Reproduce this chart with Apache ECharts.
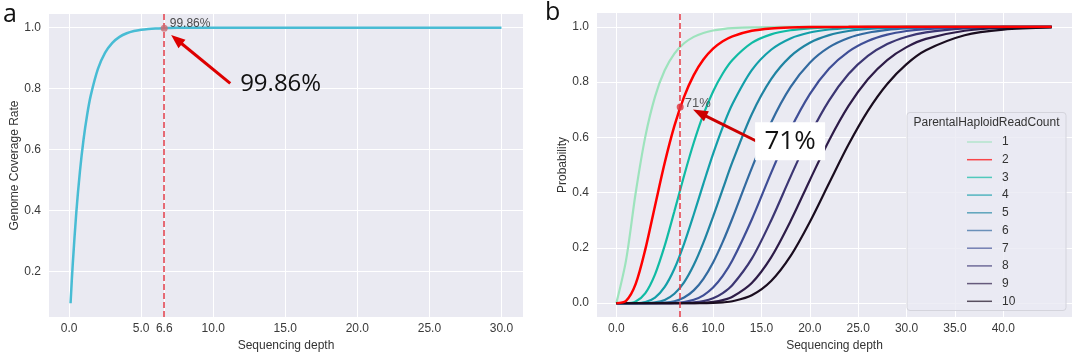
<!DOCTYPE html>
<html><head><meta charset="utf-8">
<script src="https://cdn.jsdelivr.net/npm/echarts@6/dist/echarts.min.js"></script>
<style>html,body{margin:0;padding:0;background:#fff}#c{width:1080px;height:352px}</style>
</head><body><div id="c"></div>
<script>
// ---------- Panel a ----------
const coverageDepth = [0.1, 0.25, 0.5, 0.75, 1, 1.25, 1.5, 2, 2.5, 3, 3.5, 4, 4.5, 5, 5.5, 6, 6.6, 7, 8, 9, 10, 12, 15, 20, 25, 30];
const coverageRate  = [0.0952, 0.2212, 0.3935, 0.5276, 0.6321, 0.7135, 0.7769, 0.8647, 0.9179, 0.9502, 0.9698, 0.9817, 0.9889, 0.9933, 0.9959, 0.9975, 0.9986, 0.9991, 0.9997, 0.9999, 1, 1, 1, 1, 1, 1];
const xTicksA = [0, 5, 6.6, 10, 15, 20, 25, 30];
const yTicksA = [0.2, 0.4, 0.6, 0.8, 1.0];

// ---------- Panel b ----------
const probDepth = [0, 1, 2, 3, 4, 5, 6, 7, 8, 9, 10, 11, 12, 14, 16, 18, 20, 22, 24, 26, 28, 30, 32, 36, 40, 45];
const readCounts = ['1', '2', '3', '4', '5', '6', '7', '8', '9', '10'];
const prob1  = [0, 0.1548, 0.3996, 0.6035, 0.7476, 0.8426, 0.9029, 0.9405, 0.9637, 0.9779, 0.9866, 0.9918, 0.9950, 0.9982, 0.9993, 0.9998, 0.9999, 1, 1, 1, 1, 1, 1, 1, 1, 1];
const prob2  = [0, 0.0081, 0.0698, 0.1955, 0.3528, 0.5079, 0.6414, 0.7467, 0.8252, 0.8815, 0.9208, 0.9476, 0.9656, 0.9855, 0.9940, 0.9975, 0.9990, 0.9996, 0.9998, 1, 1, 1, 1, 1, 1, 1];
const prob3  = [0, 0.0002, 0.0064, 0.0365, 0.1045, 0.2081, 0.3327, 0.4612, 0.5805, 0.6830, 0.7662, 0.8311, 0.8799, 0.9416, 0.9727, 0.9876, 0.9945, 0.9976, 0.9990, 0.9996, 1, 1, 1, 1, 1, 1];
const prob4  = [0, 0, 0.0004, 0.0043, 0.0204, 0.0588, 0.1244, 0.2147, 0.3210, 0.4326, 0.5402, 0.6373, 0.7205, 0.8432, 0.9170, 0.9580, 0.9794, 0.9902, 0.9954, 0.9979, 0.9991, 0.9996, 0.9998, 1, 1, 1];
const prob5  = [0, 0, 0, 0.0003, 0.0028, 0.0118, 0.0341, 0.0754, 0.1378, 0.2189, 0.3130, 0.4128, 0.5111, 0.6839, 0.8107, 0.8931, 0.9424, 0.9700, 0.9849, 0.9925, 0.9964, 0.9983, 0.9992, 0.9998, 1, 1];
const prob6  = [0, 0, 0, 0, 0.0003, 0.0018, 0.0070, 0.0203, 0.0462, 0.0883, 0.1475, 0.2219, 0.3073, 0.4890, 0.6541, 0.7820, 0.8703, 0.9264, 0.9597, 0.9786, 0.9890, 0.9944, 0.9972, 0.9994, 0.9999, 1];
const prob7  = [0, 0, 0, 0, 0, 0.0002, 0.0011, 0.0043, 0.0122, 0.0285, 0.0566, 0.0986, 0.1550, 0.3028, 0.4715, 0.6292, 0.7567, 0.8490, 0.9105, 0.9489, 0.9717, 0.9848, 0.9920, 0.9979, 0.9995, 0.9999];
const prob8  = [0, 0, 0, 0, 0, 0, 0.0001, 0.0007, 0.0026, 0.0075, 0.0178, 0.0363, 0.0655, 0.1610, 0.2993, 0.4571, 0.6081, 0.7341, 0.8290, 0.8949, 0.9378, 0.9643, 0.9801, 0.9942, 0.9984, 0.9997];
const prob9  = [0, 0, 0, 0, 0, 0, 0, 0.0001, 0.0005, 0.0016, 0.0046, 0.0112, 0.0233, 0.0734, 0.1660, 0.2963, 0.4451, 0.5898, 0.7140, 0.8104, 0.8797, 0.9265, 0.9565, 0.9859, 0.9958, 0.9992];
const prob10 = [0, 0, 0, 0, 0, 0, 0, 0, 0.0001, 0.0003, 0.0010, 0.0029, 0.0070, 0.0287, 0.0803, 0.1702, 0.2938, 0.4349, 0.5740, 0.6959, 0.7932, 0.8652, 0.9153, 0.9695, 0.9900, 0.9978];
const probSeries = [prob1, prob2, prob3, prob4, prob5, prob6, prob7, prob8, prob9, prob10];
const xTicksB = [0, 6.6, 10, 15, 20, 25, 30, 35, 40];
const yTicksB = [0, 0.2, 0.4, 0.6, 0.8, 1.0];

// ---------- annotations ----------
const markerDepth = 6.6;
const markerCoverage = 0.9986;
const markerProb = 0.71;
const noteA = '99.86%';
const noteB = '71%';
const arrowA = [[11.18, 0.817], [7.08, 0.976]];   // tail, tip (data coords)
const arrowB = [[14.51, 0.586], [7.92, 0.7005]];
const noteAPos = [14.68, 0.815];
const noteBPos = [17.96, 0.586];

const curveColors = ['#9de3bd', '#ff0000', '#10bba4', '#139fa9', '#2084a2', '#336aa0', '#3f4e96', '#3c3673', '#2e1c48', '#1a0d1f'];
const FONT = '"Liberation Sans", Arial, sans-serif';
const BG = '#eaeaf2';
const TXT = '#3a3a3a';

const chart = echarts.init(document.getElementById('c'), null, {renderer: 'canvas'});

function gridMarkSeries(xi, xt, yt) {
  return {
    type: 'line', xAxisIndex: xi, yAxisIndex: xi, data: [], z: 1, silent: true,
    markLine: {
      silent: true, symbol: 'none', animation: false, z: 1,
      label: {show: false},
      lineStyle: {color: '#ffffff', width: 1, type: 'solid'},
      emphasis: {disabled: true},
      data: xt.map(v => ({xAxis: v})).concat(yt.map(v => ({yAxis: v})))
    }
  };
}
function dashSeries(xi, color, w) {
  return {
    type: 'line', xAxisIndex: xi, yAxisIndex: xi, data: [], z: 6, silent: true,
    markLine: {
      silent: true, symbol: 'none', animation: false, z: 6,
      label: {show: false},
      lineStyle: {color: color, width: w, type: [6, 3]},
      emphasis: {disabled: true},
      data: [{xAxis: markerDepth}]
    }
  };
}
function axisX(gi, min, max, ticks) {
  return {
    type: 'value', gridIndex: gi, min: min, max: max,
    name: 'Sequencing depth', nameLocation: 'middle', nameGap: 19,
    nameTextStyle: {color: '#333', fontSize: 12, fontFamily: FONT},
    axisLine: {show: false}, axisTick: {show: false, customValues: ticks}, splitLine: {show: false},
    axisLabel: {customValues: ticks, formatter: v => v.toFixed(1), color: TXT, fontSize: 12, fontFamily: FONT, margin: 6}
  };
}
function axisY(gi, min, max, ticks, name, gap) {
  return {
    type: 'value', gridIndex: gi, min: min, max: max,
    name: name, nameLocation: 'middle', nameGap: gap,
    nameTextStyle: {color: '#333', fontSize: 12, fontFamily: FONT},
    axisLine: {show: false}, axisTick: {show: false, customValues: ticks}, splitLine: {show: false},
    axisLabel: {customValues: ticks, formatter: v => v.toFixed(1), color: TXT, fontSize: 12, fontFamily: FONT, margin: 8}
  };
}

const series = [
  gridMarkSeries(0, xTicksA, yTicksA),
  gridMarkSeries(1, xTicksB, yTicksB),
  {
    type: 'line', xAxisIndex: 0, yAxisIndex: 0, z: 3,
    data: coverageDepth.map((d, i) => [d, coverageRate[i]]),
    showSymbol: false, symbol: 'none', smooth: 0.3,
    lineStyle: {color: '#48bcd4', width: 2.5}, silent: true
  }
];
probSeries.forEach((arr, k) => {
  series.push({
    name: readCounts[k], type: 'line', xAxisIndex: 1, yAxisIndex: 1, z: k === 1 ? 4 : 3,
    data: probDepth.map((d, i) => [d, arr[i]]),
    showSymbol: false, symbol: 'none', smooth: 0.3,
    color: curveColors[k],
    lineStyle: {color: curveColors[k], width: k === 1 ? 2.5 : 2.2}, silent: true
  });
});
series.push(dashSeries(0, '#e66a74', 2));
series.push(dashSeries(1, '#e23a45', 1.5));
series.push({
  type: 'scatter', xAxisIndex: 0, yAxisIndex: 0, z: 7, silent: true,
  data: [[markerDepth, markerCoverage]], symbolSize: 7,
  itemStyle: {color: '#c96a72'},
  label: {show: true, position: 'right', distance: 2, offset: [0, -4], formatter: noteA, color: '#222', fontSize: 12, fontFamily: FONT}
});
series.push({
  type: 'scatter', xAxisIndex: 1, yAxisIndex: 1, z: 7, silent: true,
  data: [[markerDepth, markerProb]], symbolSize: 7,
  itemStyle: {color: '#e0303a'},
  label: {show: true, position: 'right', distance: 1, offset: [0, -4], formatter: noteB, color: '#333', fontSize: 13, fontFamily: FONT}
});

const option = {
  animation: false,
  backgroundColor: '#ffffff',
  grid: [
    {left: 49, top: 14, width: 474, height: 303, show: true, backgroundColor: BG, borderWidth: 0, containLabel: false, outerBoundsMode: 'none'},
    {left: 597, top: 13, width: 475, height: 304, show: true, backgroundColor: BG, borderWidth: 0, containLabel: false, outerBoundsMode: 'none'}
  ],
  xAxis: [axisX(0, -1.395, 31.495, xTicksA), axisX(1, -2.0, 47.1, xTicksB)],
  yAxis: [axisY(0, 0.05, 1.045, yTicksA, 'Genome Coverage Rate', 27), axisY(1, -0.05, 1.05, yTicksB, 'Probability', 26)],
  legend: {
    data: readCounts, orient: 'vertical', left: 962, top: 130,
    itemWidth: 25, itemHeight: 1.5, itemGap: 3.7, icon: 'rect',
    itemStyle: {opacity: 0.7},
    textStyle: {color: '#333', fontSize: 12, fontFamily: FONT, lineHeight: 14, padding: [0, 0, 0, 5]},
    selectedMode: false, z: 20
  },
  series: series
};
chart.setOption(option);

function arrow(p0, p1, color, w, headLen, headW) {
  const dx = p1[0] - p0[0], dy = p1[1] - p0[1], L = Math.hypot(dx, dy);
  const ux = dx / L, uy = dy / L, nx = -uy, ny = ux;
  const bx = p1[0] - ux * headLen, by = p1[1] - uy * headLen;
  return [
    {type: 'line', shape: {x1: p0[0], y1: p0[1], x2: bx + ux, y2: by + uy}, style: {stroke: color, lineWidth: w}, z: 30},
    {type: 'polygon', shape: {points: [[p1[0], p1[1]], [bx + nx * headW / 2, by + ny * headW / 2], [bx - nx * headW / 2, by - ny * headW / 2]]}, style: {fill: color}, z: 30}
  ];
}
const pa = v => chart.convertToPixel({gridIndex: 0}, v);
const pb = v => chart.convertToPixel({gridIndex: 1}, v);
const nA = pa(noteAPos), nB = pb(noteBPos);
const graphics = [
  {type: 'text', left: 3, top: 2, style: {text: 'a', font: '500 25px "Open Sans", sans-serif', fill: '#111'}, z: 40},
  {type: 'text', left: 545, top: 0, style: {text: 'b', font: '500 25px "Open Sans", sans-serif', fill: '#111'}, z: 40},
  {type: 'text', x: nA[0], y: nA[1], style: {text: noteA, font: '24px "Open Sans", sans-serif', fill: '#111', align: 'center', verticalAlign: 'middle'}, z: 40},
  {type: 'rect', shape: {x: nB[0] - 35, y: nB[1] - 19, width: 70, height: 38}, style: {fill: '#ffffff'}, z: 39},
  {type: 'text', x: nB[0], y: nB[1], style: {text: noteB, font: '26px "Open Sans", sans-serif', fill: '#111', align: 'center', verticalAlign: 'middle'}, z: 40},
  {type: 'rect', shape: {x: 907, y: 112.5, width: 159, height: 198, r: 3}, style: {fill: 'rgba(234,234,242,0.8)', stroke: '#d4d4dc', lineWidth: 1}, z: 15},
  {type: 'text', x: 986.5, y: 123, style: {text: 'ParentalHaploidReadCount', font: '12px "Liberation Sans", Arial, sans-serif', fill: '#333', align: 'center', verticalAlign: 'middle'}, z: 21}
].concat(arrow(pa(arrowA[0]), pa(arrowA[1]), '#dd0000', 3, 14, 11))
 .concat(arrow(pb(arrowB[0]), pb(arrowB[1]), '#cc0000', 3, 15, 11));
chart.setOption({graphic: graphics});
</script>
</body></html>
